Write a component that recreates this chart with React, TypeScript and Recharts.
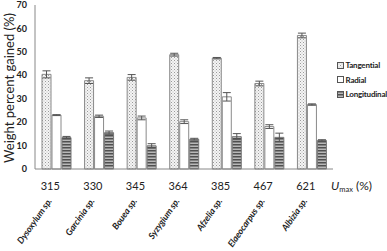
import React from 'react';
import { BarChart, Bar, XAxis, YAxis, ErrorBar, Legend } from 'recharts';

const species = ['Dysoxylum sp.', 'Garcinia sp.', 'Bouea sp.', 'Syzygium sp.', 'Afzelia sp.', 'Elaeocarpus sp.', 'Albizia sp.'];
const umax = ['315', '330', '345', '364', '385', '467', '621'];
const tangential = [40.4, 37.7, 39.1, 48.8, 47.3, 36.5, 57.0];
const tangentialErr = [1.5, 1.2, 1.2, 0.6, 0.3, 1.0, 1.0];
const radial = [23.0, 22.5, 21.8, 20.2, 30.8, 18.1, 27.5];
const radialErr = [0.2, 0.5, 0.8, 0.8, 1.8, 0.8, 0.3];
const longitudinal = [13.4, 15.5, 9.9, 12.7, 13.8, 13.5, 12.2];
const longitudinalErr = [0.5, 0.7, 0.9, 0.4, 1.3, 1.8, 0.3];
const yTicks = [0, 10, 20, 30, 40, 50, 60, 70];

const data = umax.map((u, i) => ({
  umax: u,
  species: species[i],
  tangential: tangential[i],
  tangentialErr: tangentialErr[i],
  radial: radial[i],
  radialErr: radialErr[i],
  longitudinal: longitudinal[i],
  longitudinalErr: longitudinalErr[i],
}));

const FONT = 'Lato, "Open Sans", sans-serif';

const XTick = (props: any) => {
  const { x, y, payload, index } = props;
  return (
    <g transform={`translate(${x},${y})`}>
      <text x={-6} y={21} textAnchor="middle" fontSize={11} fill="#222" fontFamily={FONT}>
        {payload.value}
      </text>
      <text
        transform={`translate(-4,32) rotate(-55)`}
        textAnchor="end"
        fontSize={9}
        fontStyle="italic"
        fontWeight="bold"
        fill="#222"
        fontFamily={FONT}
        letterSpacing={-0.1}
      >
        {species[index]}
      </text>
    </g>
  );
};

const legendItems = [
  { label: 'Tangential', fill: 'url(#patDots)' },
  { label: 'Radial', fill: '#ffffff' },
  { label: 'Longitudinal', fill: 'url(#patStripes)' },
];

const LegendContent = () => (
  <div style={{ fontFamily: FONT, fontSize: 8, fontWeight: 'bold', color: '#222', whiteSpace: 'nowrap', letterSpacing: -0.2 }}>
    {legendItems.map((it) => (
      <div key={it.label} style={{ display: 'flex', alignItems: 'center', height: 14.5 }}>
        <svg width={7} height={7} style={{ marginRight: 1.5, flexShrink: 0 }}>
          <rect x={0.5} y={0.5} width={6} height={6} fill={it.fill} stroke="#555" strokeWidth={1} />
        </svg>
        <span>{it.label}</span>
      </div>
    ))}
  </div>
);

export default function App() {
  return (
    <div style={{ position: 'absolute', left: 0, top: 0, width: 387, height: 251, background: '#fff' }}>
      <BarChart
        width={387}
        height={251}
        data={data}
        margin={{ top: 5, right: 54, bottom: 0, left: 0 }}
        barSize={9}
        barGap={1}
        barCategoryGap="18%"
      >
        <defs>
          <pattern id="patDots" width="3" height="3" patternUnits="userSpaceOnUse">
            <rect width="3" height="3" fill="#f4f4f4" />
            <rect x="0" y="0" width="1" height="1" fill="#9a9a9a" />
            <rect x="1.5" y="1.5" width="1" height="1" fill="#bbbbbb" />
          </pattern>
          <pattern id="patStripes" width="4" height="3" patternUnits="userSpaceOnUse">
            <rect width="4" height="3" fill="#b8b8b8" />
            <rect x="0" y="0" width="4" height="1.5" fill="#505050" />
          </pattern>
        </defs>
        <XAxis
          dataKey="umax"
          height={82}
          tickLine={false}
          tickSize={0}
          tickMargin={0}
          axisLine={{ stroke: '#888', strokeWidth: 1 }}
          tick={<XTick />}
          interval={0}
        />
        <YAxis
          width={35}
          domain={[0, 70]}
          ticks={yTicks}
          tickLine={false}
          tickSize={0}
          axisLine={{ stroke: '#888', strokeWidth: 1 }}
          tick={{ fontSize: 9, fontWeight: 'bold', fill: '#222', fontFamily: FONT }}
          tickMargin={8}
        />
        <Legend
          layout="horizontal"
          align="center"
          verticalAlign="middle"
          content={<LegendContent />}
          wrapperStyle={{ position: 'absolute', left: 337, top: 58, width: 50, overflow: 'visible' }}
        />
        <Bar dataKey="tangential" fill="url(#patDots)" stroke="#8a8a8a" strokeWidth={1} isAnimationActive={false}>
          <ErrorBar dataKey="tangentialErr" width={4} stroke="#555" strokeWidth={1} />
        </Bar>
        <Bar dataKey="radial" fill="#ffffff" stroke="#8a8a8a" strokeWidth={1} isAnimationActive={false}>
          <ErrorBar dataKey="radialErr" width={4} stroke="#555" strokeWidth={1} />
        </Bar>
        <Bar dataKey="longitudinal" fill="url(#patStripes)" stroke="#777" strokeWidth={1} isAnimationActive={false}>
          <ErrorBar dataKey="longitudinalErr" width={4} stroke="#555" strokeWidth={1} />
        </Bar>
      </BarChart>
      <svg
        width={387}
        height={251}
        style={{ position: 'absolute', left: 0, top: 0, pointerEvents: 'none' }}
      >
        <text
          transform="translate(14,88) rotate(-90)"
          textAnchor="middle"
          fontSize={13}
          fill="#222"
          fontFamily={FONT}
        >
          Weight percent gained (%)
        </text>
        <text x={331} y={190} fontSize={12} fill="#222" fontFamily={FONT}>
          <tspan fontStyle="italic">U</tspan>
          <tspan fontSize={7.5} dy={2}>max</tspan>
          <tspan dy={-2}> (%)</tspan>
        </text>
      </svg>
    </div>
  );
}
